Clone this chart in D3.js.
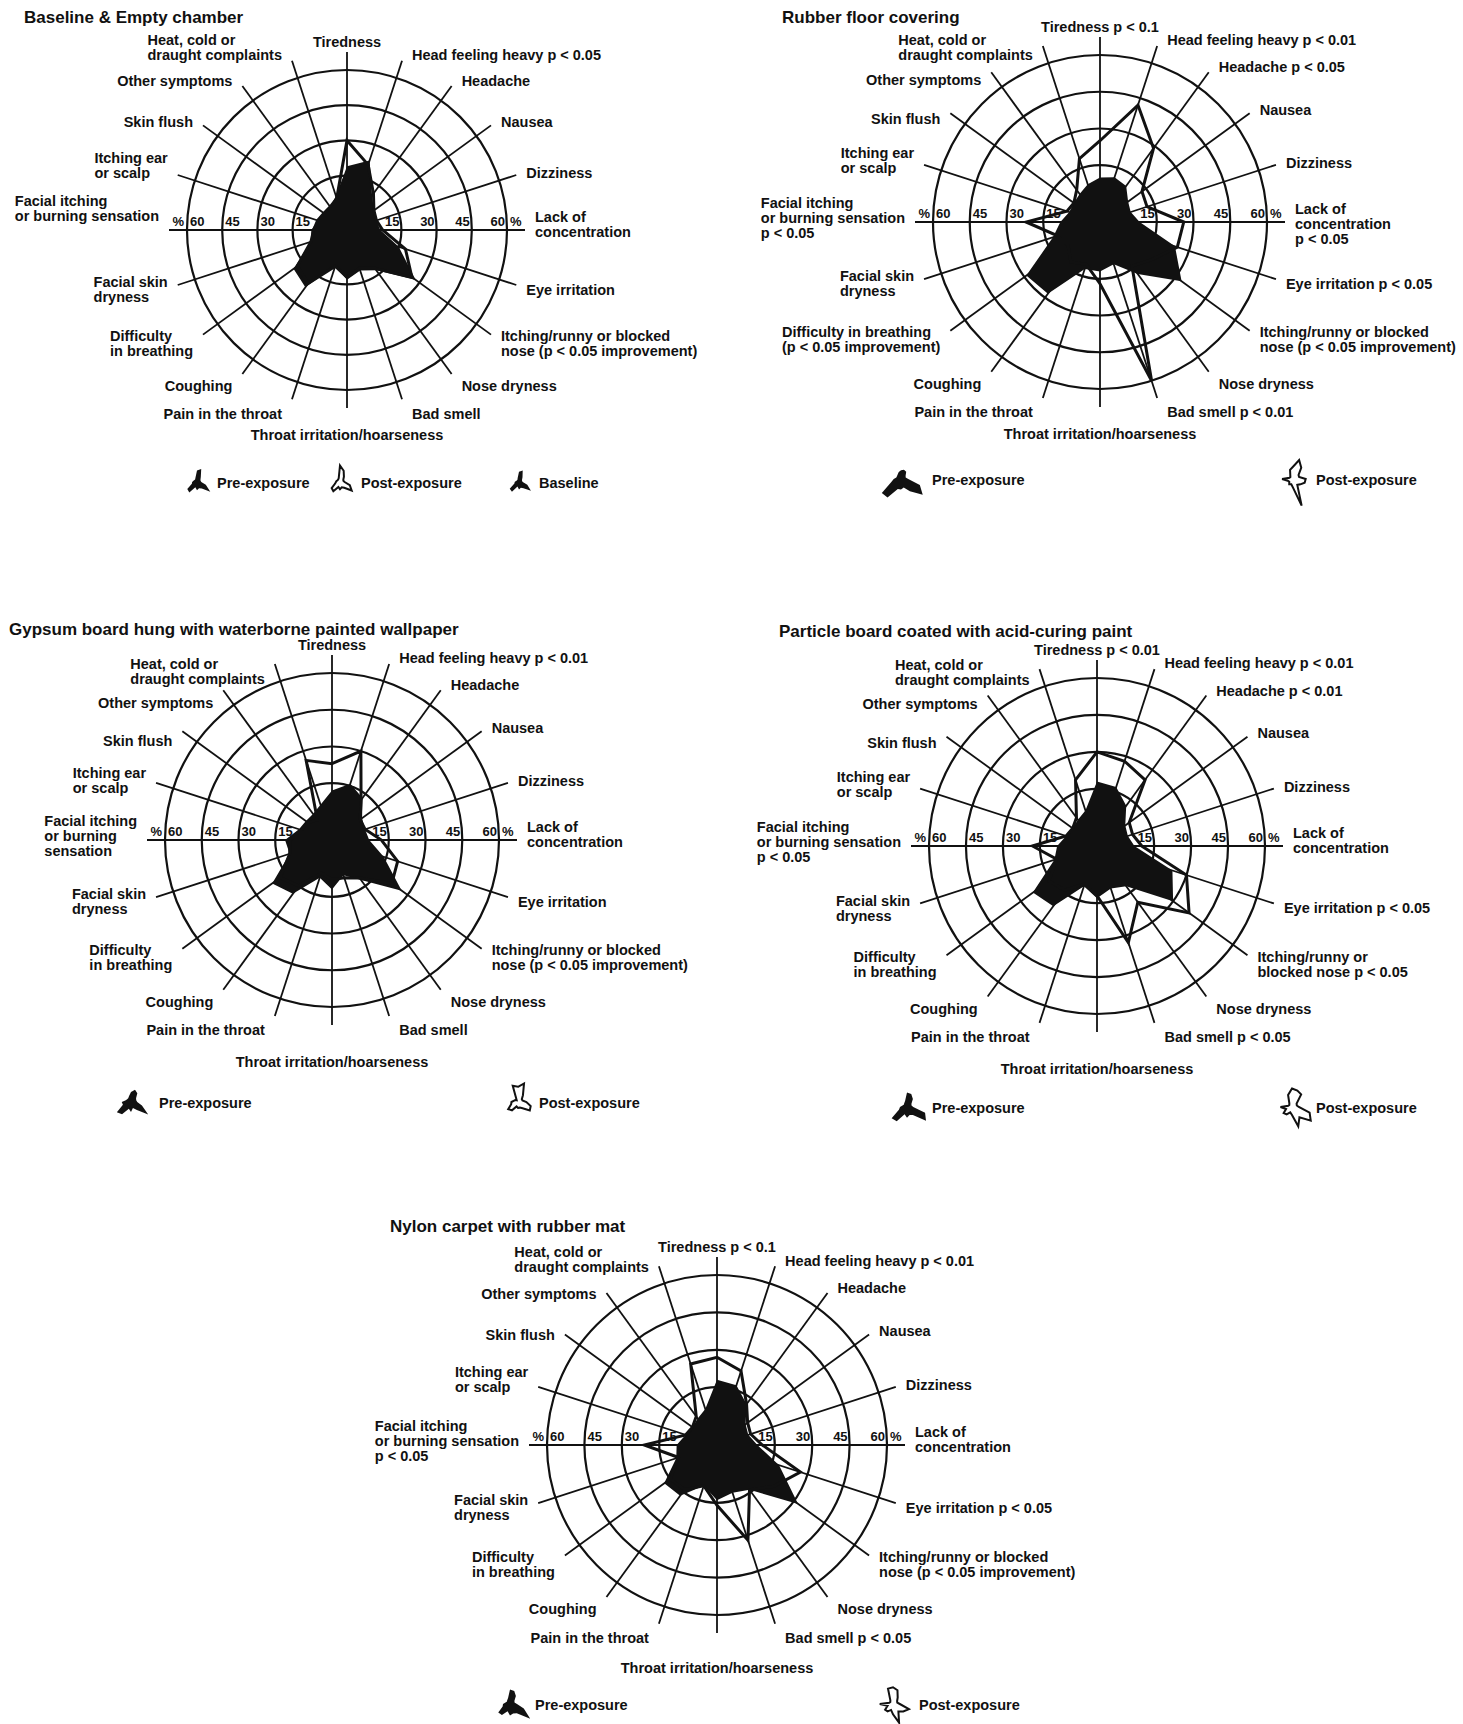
<!DOCTYPE html>
<html>
<head>
<meta charset="utf-8">
<script src="https://cdn.jsdelivr.net/npm/d3@7"></script>
<style>
    body { margin: 0; background: #fff; }
    svg text { font-family: "Liberation Sans", Arial, sans-serif; font-weight: bold; fill: #111; }
    .ring, .spoke { fill: none; stroke: #111; }
</style>
</head>
<body>
<svg id="chart" width="1463" height="1724"></svg>
<script>
// spokes, clockwise from the top
var symptoms = ["Tiredness", "Head feeling heavy", "Headache", "Nausea", "Dizziness",
    "Lack of concentration", "Eye irritation", "Itching/runny or blocked nose", "Nose dryness",
    "Bad smell", "Throat irritation/hoarseness", "Pain in the throat", "Coughing",
    "Difficulty in breathing", "Facial skin dryness", "Facial itching or burning sensation",
    "Itching ear or scalp", "Skin flush", "Other symptoms", "Heat, cold or draught complaints"];

var ringTicks = [15, 30, 45, 60];

// % of subjects reporting each symptom
var baseEmpty = [17, 20, 9, 5, 4, 5, 14, 25, 12, 9, 12, 7, 20, 19, 7, 6, 4, 3, 3, 6];
var preEmpty  = [19, 23, 10, 6, 5, 6, 15, 28, 13, 10, 13, 8, 22, 20, 8, 7, 5, 4, 4, 7];
var postEmpty = [30, 21, 11, 6, 5, 7, 18, 26, 12, 9, 12, 8, 20, 18, 8, 6, 5, 4, 4, 6];

var preRubber  = [10, 11, 10, 6, 5, 8, 24, 33, 18, 10, 12, 12, 28, 29, 12, 8, 5, 5, 6, 8];
var postRubber = [25, 42, 29, 13, 12, 26, 25, 18, 14, 60, 17, 10, 12, 8, 10, 22, 6, 5, 8, 19];

var preGypsum  = [12, 16, 13, 7, 6, 7, 14, 27, 12, 7, 12, 8, 19, 22, 10, 11, 6, 5, 5, 7];
var postGypsum = [23, 30, 12, 6, 6, 12, 20, 22, 11, 8, 8, 6, 15, 18, 10, 9, 5, 4, 2, 26];

var preParticle  = [18, 17, 12, 6, 5, 7, 24, 30, 12, 10, 13, 9, 22, 24, 10, 8, 5, 4, 5, 7];
var postParticle = [30, 28, 25, 8, 7, 10, 30, 38, 20, 33, 12, 8, 14, 16, 9, 18, 5, 4, 6, 20];

var preNylon  = [18, 17, 12, 6, 5, 8, 18, 32, 14, 12, 14, 9, 17, 18, 9, 8, 5, 4, 5, 7];
var postNylon = [27, 23, 12, 7, 6, 10, 27, 20, 14, 32, 16, 9, 14, 15, 8, 21, 5, 4, 6, 26];

// spoke labels as printed on each panel
var labelsEmpty = ["Tiredness", "Head feeling heavy p < 0.05", "Headache", "Nausea", "Dizziness",
    "Lack of\nconcentration", "Eye irritation", "Itching/runny or blocked\nnose (p < 0.05 improvement)",
    "Nose dryness", "Bad smell", "Throat irritation/hoarseness", "Pain in the throat", "Coughing",
    "Difficulty\nin breathing", "Facial skin\ndryness", "Facial itching\nor burning sensation",
    "Itching ear\nor scalp", "Skin flush", "Other symptoms", "Heat, cold or\ndraught complaints"];
var labelsRubber = ["Tiredness p < 0.1", "Head feeling heavy p < 0.01", "Headache p < 0.05", "Nausea", "Dizziness",
    "Lack of\nconcentration\np < 0.05", "Eye irritation p < 0.05", "Itching/runny or blocked\nnose (p < 0.05 improvement)",
    "Nose dryness", "Bad smell p < 0.01", "Throat irritation/hoarseness", "Pain in the throat", "Coughing",
    "Difficulty in breathing\n(p < 0.05 improvement)", "Facial skin\ndryness", "Facial itching\nor burning sensation\np < 0.05",
    "Itching ear\nor scalp", "Skin flush", "Other symptoms", "Heat, cold or\ndraught complaints"];
var labelsGypsum = ["Tiredness", "Head feeling heavy p < 0.01", "Headache", "Nausea", "Dizziness",
    "Lack of\nconcentration", "Eye irritation", "Itching/runny or blocked\nnose (p < 0.05 improvement)",
    "Nose dryness", "Bad smell", "Throat irritation/hoarseness", "Pain in the throat", "Coughing",
    "Difficulty\nin breathing", "Facial skin\ndryness", "Facial itching\nor burning\nsensation",
    "Itching ear\nor scalp", "Skin flush", "Other symptoms", "Heat, cold or\ndraught complaints"];
var labelsParticle = ["Tiredness p < 0.01", "Head feeling heavy p < 0.01", "Headache p < 0.01", "Nausea", "Dizziness",
    "Lack of\nconcentration", "Eye irritation p < 0.05", "Itching/runny or\nblocked nose p < 0.05",
    "Nose dryness", "Bad smell p < 0.05", "Throat irritation/hoarseness", "Pain in the throat", "Coughing",
    "Difficulty\nin breathing", "Facial skin\ndryness", "Facial itching\nor burning sensation\np < 0.05",
    "Itching ear\nor scalp", "Skin flush", "Other symptoms", "Heat, cold or\ndraught complaints"];
var labelsNylon = ["Tiredness p < 0.1", "Head feeling heavy p < 0.01", "Headache", "Nausea", "Dizziness",
    "Lack of\nconcentration", "Eye irritation p < 0.05", "Itching/runny or blocked\nnose (p < 0.05 improvement)",
    "Nose dryness", "Bad smell p < 0.05", "Throat irritation/hoarseness", "Pain in the throat", "Coughing",
    "Difficulty\nin breathing", "Facial skin\ndryness", "Facial itching\nor burning sensation\np < 0.05",
    "Itching ear\nor scalp", "Skin flush", "Other symptoms", "Heat, cold or\ndraught complaints"];

var legendNames = { pre: "Pre-exposure", post: "Post-exposure", base: "Baseline" };

// panel layout; legend entries: [series, icon x, text x, icon size]
var panels = [
    { title: "Baseline & Empty chamber", labels: labelsEmpty, base: baseEmpty, pre: preEmpty, post: postEmpty,
      cx: 347, cy: 230, R: 160, tx: 24, ty: 23, ly: 488, bottomGap: 32, upLeft: 0,
      legend: [["pre", 197, 217, 34], ["post", 340, 361, 32], ["base", 519, 539, 34]] },
    { title: "Rubber floor covering", labels: labelsRubber, pre: preRubber, post: postRubber,
      cx: 1100, cy: 222, R: 167, tx: 782, ty: 23, ly: 485, bottomGap: 32, upLeft: 15,
      legend: [["pre", 901, 932, 48], ["post", 1293, 1316, 28]] },
    { title: "Gypsum board hung with waterborne painted wallpaper", labels: labelsGypsum, pre: preGypsum, post: postGypsum,
      cx: 332, cy: 840, R: 167, tx: 9, ty: 635, ly: 1108, bottomGap: 42, upLeft: 22,
      legend: [["pre", 131, 159, 46], ["post", 518, 539, 38]] },
    { title: "Particle board coated with acid-curing paint", labels: labelsParticle, pre: preParticle, post: postParticle,
      cx: 1097, cy: 846, R: 168, tx: 779, ty: 637, ly: 1113, bottomGap: 42, upLeft: 17,
      legend: [["pre", 907, 932, 46], ["post", 1292, 1316, 36]] },
    { title: "Nylon carpet with rubber mat", labels: labelsNylon, pre: preNylon, post: postNylon,
      cx: 717, cy: 1445, R: 170, tx: 390, ty: 1232, ly: 1710, bottomGap: 40, upLeft: 7,
      legend: [["pre", 510, 535, 46], ["post", 893, 919, 36]] }
];

var svg = d3.select("#chart");
var n = symptoms.length;
var angle = d3.scaleLinear().domain([0, n]).range([0, 2 * Math.PI]);

panels.forEach(function (p) {
    var r = d3.scaleLinear().domain([0, 60]).range([p.R * 0.12, p.R]);
    var L = p.R + 18;

    svg.append("text")
        .attr("x", p.tx).attr("y", p.ty)
        .style("font-size", "17px")
        .text(p.title);

    var g = svg.append("g").attr("transform", "translate(" + p.cx + "," + p.cy + ")");

    // rings
    g.selectAll(".ring").data(ringTicks).enter().append("circle")
        .attr("class", "ring")
        .attr("r", function (d) { return r(d); })
        .style("stroke-width", 2.2);

    // spokes
    g.selectAll(".spoke").data(symptoms).enter().append("line")
        .attr("class", "spoke")
        .attr("x1", 0).attr("y1", 0)
        .attr("x2", function (d, i) { return L * Math.sin(angle(i)); })
        .attr("y2", function (d, i) { return -L * Math.cos(angle(i)); })
        .style("stroke-width", 1.8);

    // ring values along the horizontal axis
    var ticks = g.append("g").style("font-size", "13px");
    ringTicks.forEach(function (v) {
        ticks.append("text").attr("x", r(v) - 2).attr("y", -4).attr("text-anchor", "end").text(v);
        ticks.append("text").attr("x", -r(v) + 3).attr("y", -4).attr("text-anchor", "start").text(v);
    });
    ticks.append("text").attr("x", r(60) + 3).attr("y", -4).text("%");
    ticks.append("text").attr("x", -r(60) - 3).attr("y", -4).attr("text-anchor", "end").text("%");

    var radial = d3.lineRadial()
        .angle(function (d, i) { return angle(i); })
        .radius(function (d) { return r(d); })
        .curve(d3.curveLinearClosed);

    if (p.base) {
        g.append("path").attr("d", radial(p.base)).style("fill", "#111");
    }
    g.append("path").attr("d", radial(p.pre)).style("fill", "#111");
    g.append("path").attr("d", radial(p.post))
        .style("fill", "none").style("stroke", "#111")
        .style("stroke-width", 3).style("stroke-linejoin", "miter");

    // spoke labels
    p.labels.forEach(function (lab, i) {
        var a = angle(i);
        var s = Math.sin(a), c = Math.cos(a);
        var ex = L * s, ey = -L * c;
        var lines = lab.split("\n");
        var k = lines.length;
        var lh = 15;
        var t = g.append("text").style("font-size", "14.5px");
        var tsp = t.selectAll("tspan").data(lines).enter().append("tspan").text(function (d) { return d; });
        var y0, x;
        if (Math.abs(s) < 0.2) {
            t.attr("text-anchor", "middle");
            y0 = c > 0 ? ey - 5 - (k - 1) * lh : ey + p.bottomGap;
            tsp.attr("x", ex).attr("y", function (d, j) { return y0 + j * lh; });
            return;
        }
        if (Math.abs(c) < 0.2) {
            // horizontal axis ends
            y0 = s > 0 ? ey - 8 : (k === 2 ? ey - 24 : ey - 14);
        } else if (c > 0.2) {
            // upper half: last line sits level with the spoke end
            y0 = ey + 5 - c * 6 - (k - 1) * lh;
            if (s < 0) y0 += p.upLeft * c;
        } else {
            y0 = ey + 5 - (k - 1) * lh / 2 - c * 15;
        }
        if (s > 0) {
            x = ex + 10;
        } else {
            var w = 0;
            tsp.each(function () { w = Math.max(w, this.getComputedTextLength()); });
            x = ex - 10 - w;
        }
        tsp.attr("x", x).attr("y", function (d, j) { return y0 + j * lh; });
    });

    // legend: tiny copies of each shape
    p.legend.forEach(function (it) {
        var key = it[0];
        var ri = d3.scaleLinear().domain([0, 60]).range([1, it[3]]);
        var icon = d3.lineRadial()
            .angle(function (d, i) { return angle(i); })
            .radius(function (d) { return ri(d); })
            .curve(d3.curveLinearClosed);
        var ig = svg.append("g").attr("transform", "translate(" + it[1] + "," + (p.ly - 6) + ")");
        if (key === "post") {
            ig.append("path").attr("d", icon(p[key]))
                .style("fill", "none").style("stroke", "#111").style("stroke-width", 2);
        } else {
            ig.append("path").attr("d", icon(p[key])).style("fill", "#111");
        }
        svg.append("text")
            .attr("x", it[2]).attr("y", p.ly)
            .style("font-size", "14.5px")
            .text(legendNames[key]);
    });
});
</script>
</body>
</html>
